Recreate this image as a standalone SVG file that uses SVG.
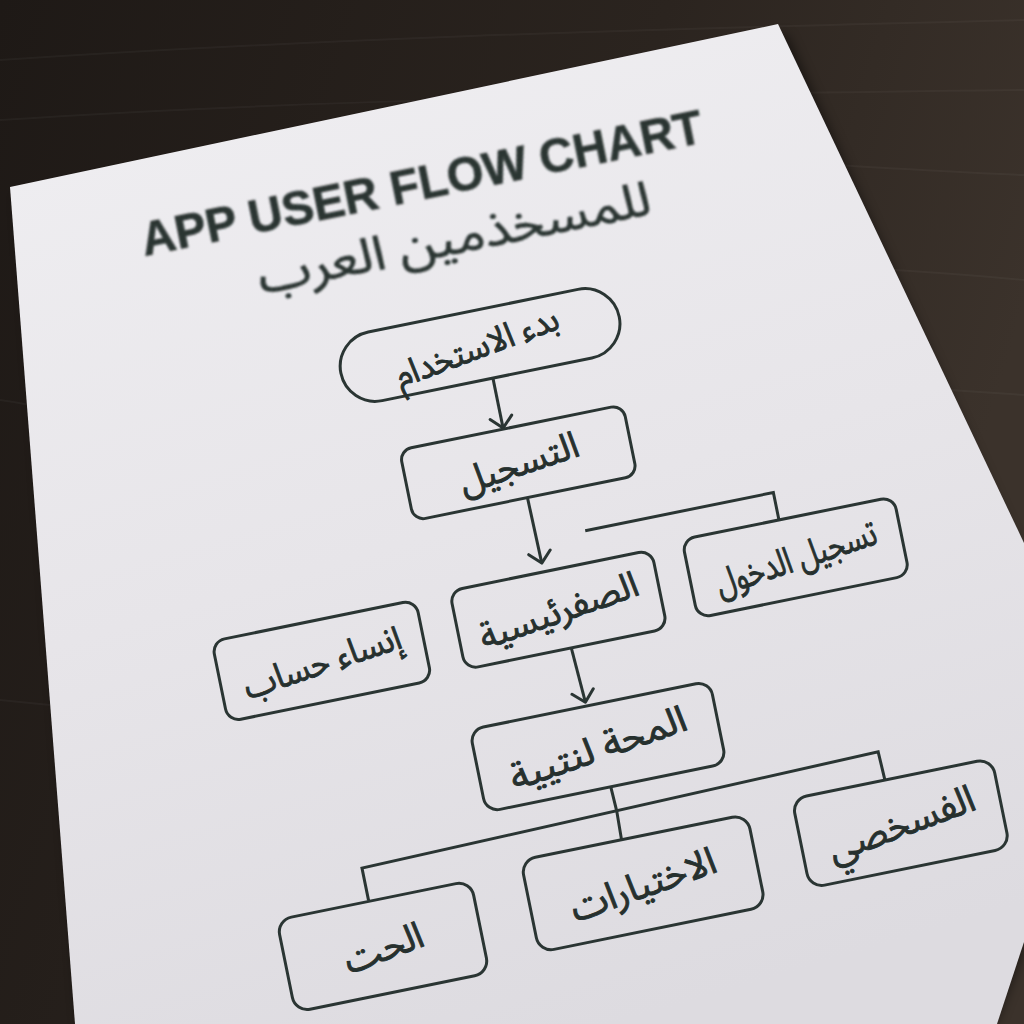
<svg xmlns="http://www.w3.org/2000/svg" width="1024" height="1024" viewBox="0 0 1024 1024">
<defs>
  <linearGradient id="wood" x1="0" y1="0" x2="1" y2="0.3">
    <stop offset="0" stop-color="#1e1916"/>
    <stop offset="0.6" stop-color="#2b241f"/>
    <stop offset="1" stop-color="#3b322b"/>
  </linearGradient>
  <linearGradient id="paper" x1="0.3" y1="0" x2="0.6" y2="1">
    <stop offset="0" stop-color="#efeef1"/>
    <stop offset="0.5" stop-color="#e7e5e9"/>
    <stop offset="1" stop-color="#dddbe0"/>
  </linearGradient>
  <filter id="shadow" x="-10%" y="-10%" width="120%" height="120%">
    <feGaussianBlur stdDeviation="6"/>
  </filter>
  <filter id="soft" x="-5%" y="-20%" width="110%" height="140%">
    <feGaussianBlur stdDeviation="0.8"/>
  </filter>
  <marker id="arrow" viewBox="-2 -13 15 26" refX="11" refY="0" markerWidth="15" markerHeight="26" markerUnits="userSpaceOnUse" orient="auto">
    <path d="M0,-11 L11,0 L0,11" fill="none" stroke="#2a3533" stroke-width="3" stroke-linecap="round" stroke-linejoin="round"/>
  </marker>
  <style>
    .box { fill: none; stroke: #2a3533; stroke-width: 3; }
    .conn { fill: none; stroke: #2a3533; stroke-width: 3; stroke-linejoin: miter; }
    .lbl { font-family: "Noto Sans Arabic", "DejaVu Sans", sans-serif; fill: #26302e; stroke: #26302e; stroke-width: 0.9; text-anchor: middle; direction: rtl; }
    .title { font-family: "Liberation Sans", Arial, sans-serif; font-weight: bold; fill: #2b3533; stroke: #2b3533; stroke-width: 0.6; }
    .sub { font-family: "Noto Sans Arabic", "DejaVu Sans", sans-serif; fill: #2b3533; stroke: #2b3533; stroke-width: 0.7; text-anchor: middle; direction: rtl; }
    .grain { fill: none; stroke: #ffffff; stroke-opacity: 0.035; stroke-width: 2; }
  </style>
</defs>

<!-- table -->
<rect x="0" y="0" width="1024" height="1024" fill="url(#wood)"/>
<path class="grain" d="M0,60 C300,40 600,30 1024,20"/>
<path class="grain" d="M0,120 C300,100 600,95 1024,90"/>
<path class="grain" d="M600,150 C750,160 900,170 1024,175"/>
<path class="grain" d="M700,260 C820,265 920,270 1024,280"/>
<path class="grain" d="M800,380 C880,385 950,390 1024,395"/>
<path class="grain" d="M0,400 C15,402 25,404 30,405"/>
<path class="grain" d="M0,700 C20,702 40,704 60,706"/>

<!-- paper -->
<polygon points="18,197 786,34 1024,560 1024,950 995,1024 80,1024" fill="#000" opacity="0.5" filter="url(#shadow)"/>
<polygon points="10,187 778,24 1024,543 1024,942 997,1024 75,1024" fill="url(#paper)"/>

<g transform="rotate(-11.5 512 512)">
  <!-- title -->
  <g id="title" filter="url(#soft)">
    <text class="title" x="203" y="188" font-size="48" textLength="572" lengthAdjust="spacingAndGlyphs">APP USER FLOW CHART</text>
    <text class="sub" x="510" y="248" font-size="48" textLength="400" lengthAdjust="spacingAndGlyphs">للمسخذمين العرب</text>
  </g>

  <!-- connectors -->
  <g id="connectors">
    <path class="conn" d="M520,377 L520,428" marker-end="url(#arrow)"/>
    <path class="conn" d="M530,501 L531,568" marker-end="url(#arrow)"/>
    <path class="conn" d="M580,545 L772,545 L772,573"/>
    <path class="conn" d="M543,657 L546,713" marker-end="url(#arrow)"/>
    <path class="conn" d="M554,801 L555,826 L554,855"/>
    <path class="conn" d="M294,864 L294,831 L823,820 L824,849"/>
  </g>

  <!-- nodes -->
  <g id="node-start">
    <rect class="box" x="372" y="307" width="284" height="70" rx="35"/>
    <text class="lbl" x="510" y="355" font-size="35" textLength="172" lengthAdjust="spacingAndGlyphs" transform="rotate(-9 510 342)">بدء الاستخدام</text>
  </g>
  <g id="node-register">
    <rect class="box" x="414" y="429" width="228" height="72" rx="12"/>
    <text class="lbl" x="528" y="478" font-size="37" textLength="124" lengthAdjust="spacingAndGlyphs" transform="rotate(-7 528 465)">التسجيل</text>
  </g>
  <g id="node-login">
    <rect class="box" x="673" y="573" width="216" height="80" rx="13"/>
    <text class="lbl" x="781" y="626" font-size="37" textLength="168" lengthAdjust="spacingAndGlyphs" transform="rotate(-7 781 613)">تسجيل الدخول</text>
  </g>
  <g id="node-home">
    <rect class="box" x="435" y="577" width="206" height="80" rx="13"/>
    <text class="lbl" x="538" y="630" font-size="36" textLength="166" lengthAdjust="spacingAndGlyphs" transform="rotate(-8 538 617)">الصفرئيسية</text>
  </g>
  <g id="node-create">
    <rect class="box" x="192" y="579" width="208" height="82" rx="13"/>
    <text class="lbl" x="296" y="633" font-size="36" textLength="164" lengthAdjust="spacingAndGlyphs" transform="rotate(-7 296 620)">إنساء حساب</text>
  </g>
  <g id="node-main">
    <rect class="box" x="427" y="717" width="245" height="84" rx="14"/>
    <text class="lbl" x="549" y="773" font-size="37" textLength="185" lengthAdjust="spacingAndGlyphs" transform="rotate(-8 549 759)">المحة لنتيية</text>
  </g>
  <g id="node-profile">
    <rect class="box" x="729" y="849" width="204" height="91" rx="15"/>
    <text class="lbl" x="831" y="908" font-size="38" textLength="154" lengthAdjust="spacingAndGlyphs" transform="rotate(-9 831 894)">الفسخصي</text>
  </g>
  <g id="node-options">
    <rect class="box" x="451" y="855" width="231" height="94" rx="15"/>
    <text class="lbl" x="566" y="916" font-size="38" textLength="152" lengthAdjust="spacingAndGlyphs" transform="rotate(-8 566 902)">الاختيارات</text>
  </g>
  <g id="node-search">
    <rect class="box" x="200" y="865" width="198" height="94" rx="15"/>
    <text class="lbl" x="299" y="926" font-size="37" textLength="82" lengthAdjust="spacingAndGlyphs" transform="rotate(-9 299 912)">الحت</text>
  </g>
</g>
</svg>
